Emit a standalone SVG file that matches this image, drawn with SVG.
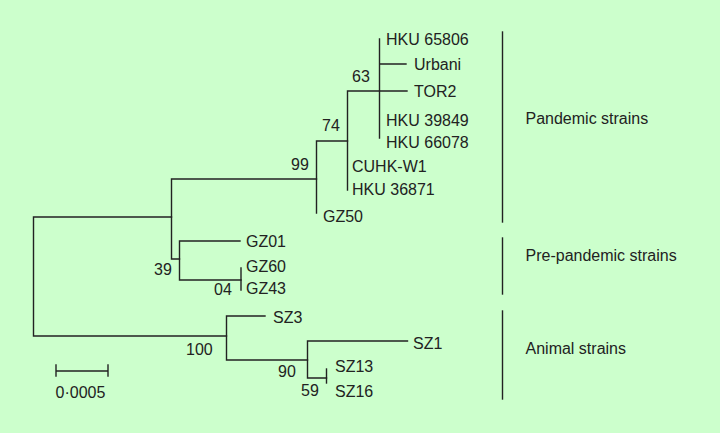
<svg xmlns="http://www.w3.org/2000/svg" width="720" height="433" viewBox="0 0 720 433">
<style>
.t{font-family:"Liberation Sans",Arial,sans-serif;font-size:16px;fill:#222}
.l{stroke:#222;stroke-width:1.4;fill:none;stroke-linecap:square}
</style>
<rect width="720" height="433" fill="#ccffcc"/>
<g id="connectors" class="l">
<path d="M33.5,217V336M33.5,217H171.5M33.5,336H226.5"/>
<path d="M171.5,179V259M171.5,179H316.5M171.5,259H179.5"/>
<path d="M316.5,141V213M316.5,141H347.5"/>
<path d="M347.5,91V190M347.5,91H407"/>
<path d="M379.5,39V138M379.5,64H406"/>
<path d="M179.5,241V280M179.5,241H240M179.5,280H241"/>
<path d="M241,268V290"/>
<path d="M226.5,316V360M226.5,316H265M226.5,360H307.5"/>
<path d="M307.5,341V378M307.5,341H407.5M307.5,378H326.5"/>
<path d="M326.5,369V383"/>
</g>
<g id="leaves" class="t">
<g id="hku65806"><text x="386" y="45">HKU 65806</text></g>
<g id="urbani"><text x="414" y="70">Urbani</text></g>
<g id="tor2"><text x="414" y="97">TOR2</text></g>
<g id="hku39849"><text x="386" y="126">HKU 39849</text></g>
<g id="hku66078"><text x="386" y="148">HKU 66078</text></g>
<g id="cuhkw1"><text x="352" y="172">CUHK-W1</text></g>
<g id="hku36871"><text x="352" y="195">HKU 36871</text></g>
<g id="gz50"><text x="323" y="222">GZ50</text></g>
<g id="gz01"><text x="246" y="247">GZ01</text></g>
<g id="gz60"><text x="246" y="272">GZ60</text></g>
<g id="gz43"><text x="246" y="294">GZ43</text></g>
<g id="sz3"><text x="273" y="323">SZ3</text></g>
<g id="sz1"><text x="413" y="349">SZ1</text></g>
<g id="sz13"><text x="335" y="372">SZ13</text></g>
<g id="sz16"><text x="335" y="397">SZ16</text></g>
</g>
<g id="bootstrap" class="t">
<text x="352" y="82">63</text>
<text x="322" y="131">74</text>
<text x="291" y="170">99</text>
<text x="154" y="275">39</text>
<text x="214" y="295">04</text>
<text x="186" y="355">100</text>
<text x="278" y="377">90</text>
<text x="301" y="396">59</text>
</g>
<g id="clades">
<g id="pandemic"><path class="l" d="M502.5,32V222"/><text class="t" x="525.5" y="124">Pandemic strains</text></g>
<g id="prepandemic"><path class="l" d="M502.5,238V294"/><text class="t" x="525.5" y="261">Pre-pandemic strains</text></g>
<g id="animal"><path class="l" d="M502.5,311V399"/><text class="t" x="525.5" y="354">Animal strains</text></g>
</g>
<g id="scale">
<path class="l" d="M56,371H108M56,365V376M108,365V376"/>
<text class="t" x="55.5" y="398">0·0005</text>
</g>
</svg>
